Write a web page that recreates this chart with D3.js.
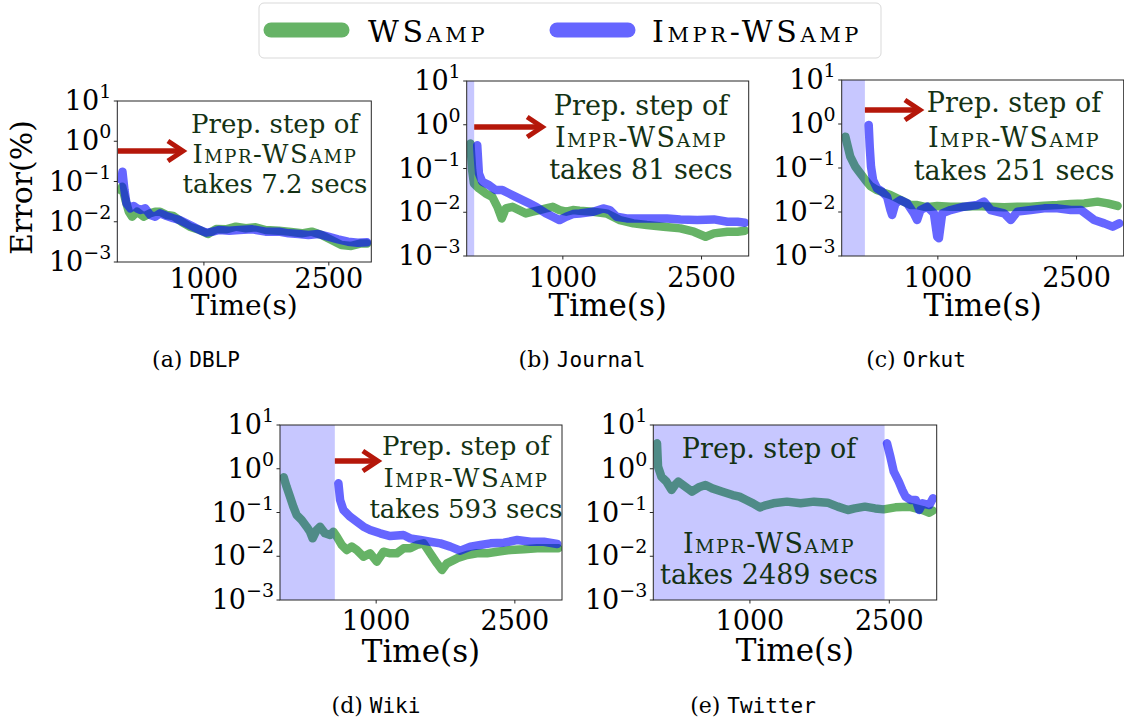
<!DOCTYPE html>
<html>
<head>
<meta charset="utf-8">
<script src="https://cdn.jsdelivr.net/npm/d3@7"></script>
<style>
  body { margin: 0; background: #fff; }
  svg text { font-family: "DejaVu Serif", serif; }
</style>
</head>
<body>
<svg id="chart" width="1124" height="724"></svg>
<script>
// ---- data (time in s, error in %) ----
const datasets = ['DBLP', 'Journal', 'Orkut', 'Wiki', 'Twitter']
const tags = ['(a)', '(b)', '(c)', '(d)', '(e)']
const prepSecs = [7.2, 81, 251, 593, 2489]
const seriesNames = ['WSamp', 'Impr-WSamp']
const xTicks = [1000, 2500]
const yTicks = [1e1, 1e0, 1e-1, 1e-2, 1e-3]
const xDomain = [-40, 3010]
const yDomain = [1e-3, 1e1]

const dblpWsamp = [[0,0.0615],[18,0.0745],[58,0.0347],[98,0.0178],[137,0.0134],[197,0.0178],[276,0.0134],[355,0.0162],[414,0.0178],[474,0.0178],[553,0.0147],[632,0.0139],[731,0.0100],[830,0.00755],[949,0.00624],[1047,0.00496],[1146,0.0066],[1265,0.0065],[1384,0.00755],[1503,0.00687],[1621,0.0073],[1740,0.00624],[1898,0.006],[2017,0.00568],[2176,0.00516],[2294,0.00568],[2413,0.00469],[2532,0.00352],[2650,0.00264],[2769,0.0025],[2888,0.0029],[2960,0.0029]]
const dblpImpr = [[8,0.109],[22,0.175],[46,0.0615],[70,0.0287],[117,0.0215],[157,0.0246],[197,0.0215],[236,0.0196],[295,0.0215],[355,0.0147],[414,0.0134],[474,0.0162],[553,0.0139],[632,0.0122],[711,0.0110],[790,0.00914],[869,0.00755],[949,0.00624],[1028,0.00536],[1107,0.00568],[1186,0.00624],[1305,0.0060],[1424,0.00624],[1582,0.00648],[1740,0.00568],[1898,0.00568],[2017,0.00516],[2136,0.00496],[2255,0.00469],[2373,0.00496],[2492,0.00427],[2611,0.00366],[2730,0.0032],[2848,0.0030],[2960,0.00308]]

const journalWsamp = [[0,0.372],[19,0.0916],[38,0.0455],[92,0.035],[165,0.0269],[237,0.0225],[292,0.0133],[339,0.00723],[383,0.0122],[455,0.0133],[528,0.0112],[600,0.0094],[673,0.0103],[746,0.0112],[818,0.0122],[891,0.0133],[964,0.0112],[1036,0.0103],[1109,0.0112],[1182,0.0108],[1327,0.0103],[1472,0.0094],[1617,0.00662],[1763,0.00556],[1908,0.00509],[2090,0.00467],[2271,0.00428],[2416,0.00359],[2544,0.00276],[2634,0.00329],[2780,0.00359],[2889,0.00359],[2970,0.00379]]
const journalImpr = [[74,0.34],[92,0.0769],[128,0.0497],[201,0.0417],[274,0.0321],[346,0.0321],[419,0.0269],[492,0.0225],[564,0.0189],[637,0.0159],[709,0.0133],[818,0.0094],[891,0.00789],[964,0.00662],[1036,0.00789],[1109,0.00908],[1182,0.0094],[1327,0.0103],[1436,0.0122],[1508,0.0112],[1581,0.00789],[1690,0.00723],[1835,0.00723],[1981,0.00723],[2126,0.00723],[2271,0.00686],[2453,0.00662],[2634,0.00686],[2780,0.00607],[2889,0.00607],[2970,0.00576]]

const orkutWsamp = [[0,0.515],[17,0.364],[53,0.181],[107,0.107],[162,0.0757],[216,0.0534],[270,0.039],[342,0.0316],[415,0.0275],[487,0.0243],[559,0.0205],[631,0.0172],[704,0.0144],[776,0.0144],[848,0.0132],[920,0.0132],[993,0.0137],[1137,0.0132],[1282,0.0132],[1426,0.0137],[1571,0.0132],[1716,0.0128],[1860,0.0132],[2005,0.0132],[2149,0.0139],[2294,0.0144],[2438,0.0152],[2583,0.0157],[2727,0.0172],[2836,0.0157],[2944,0.0137]]
const orkutImpr = [[252,0.95],[263,0.305],[277,0.107],[299,0.0534],[342,0.0345],[396,0.029],[451,0.0223],[487,0.0111],[505,0.00855],[541,0.0157],[595,0.0187],[668,0.0157],[740,0.00933],[776,0.00658],[812,0.0111],[884,0.0132],[957,0.00933],[993,0.00275],[1011,0.00252],[1047,0.00933],[1137,0.0111],[1282,0.0132],[1426,0.0144],[1499,0.0172],[1571,0.0111],[1716,0.00933],[1788,0.00658],[1860,0.0102],[2005,0.0111],[2149,0.0121],[2294,0.0121],[2438,0.0111],[2547,0.0111],[2619,0.00855],[2691,0.00658],[2800,0.00552],[2890,0.00464],[2962,0.00552]]

const wikiWsamp = [[0,0.637],[31,0.389],[68,0.23],[104,0.136],[140,0.0877],[194,0.0675],[248,0.0474],[284,0.0365],[313,0.0257],[357,0.0398],[393,0.0474],[447,0.0334],[501,0.0306],[537,0.0365],[574,0.0281],[628,0.0181],[682,0.0139],[736,0.0166],[790,0.0139],[863,0.00977],[935,0.0117],[1007,0.00752],[1080,0.0127],[1152,0.0117],[1224,0.0117],[1296,0.0152],[1369,0.0152],[1441,0.0181],[1513,0.0197],[1585,0.0117],[1658,0.00689],[1712,0.00485],[1766,0.00689],[1875,0.00896],[1983,0.0107],[2091,0.0117],[2200,0.0117],[2308,0.0127],[2453,0.0139],[2597,0.0144],[2742,0.0152],[2887,0.0152],[2970,0.0152]]
const wikiImpr = [[592,0.464],[610,0.193],[646,0.114],[718,0.0803],[790,0.0617],[863,0.0474],[935,0.0398],[1043,0.0334],[1152,0.029],[1296,0.0306],[1369,0.0257],[1477,0.0235],[1585,0.0215],[1694,0.0197],[1802,0.0166],[1911,0.0134],[2019,0.0166],[2128,0.0181],[2236,0.0197],[2381,0.0204],[2525,0.0235],[2670,0.0215],[2814,0.0215],[2959,0.0191]]

const twitterWsamp = [[0,3.81],[11,1.12],[47,0.659],[102,0.507],[157,0.327],[193,0.425],[230,0.507],[303,0.389],[376,0.299],[449,0.376],[522,0.425],[595,0.356],[704,0.299],[814,0.251],[887,0.23],[960,0.193],[1033,0.162],[1106,0.131],[1179,0.148],[1252,0.162],[1398,0.177],[1544,0.162],[1690,0.177],[1836,0.168],[1945,0.136],[2055,0.114],[2128,0.124],[2237,0.136],[2347,0.124],[2438,0.118],[2566,0.131],[2712,0.136],[2858,0.114],[2931,0.099],[2967,0.11]]
const twitterImpr = [[2475,3.81],[2511,1.89],[2548,0.857],[2602,0.507],[2639,0.327],[2675,0.23],[2730,0.193],[2785,0.193],[2821,0.114],[2858,0.162],[2931,0.148],[2970,0.211]]

const wsampSeries = [dblpWsamp, journalWsamp, orkutWsamp, wikiWsamp, twitterWsamp]
const imprSeries = [dblpImpr, journalImpr, orkutImpr, wikiImpr, twitterImpr]

// ---- layout ----
const serif = '"DejaVu Serif", serif'
const mono = '"DejaVu Sans Mono", monospace'
const colors = ['#008000', '#0000ff']
const annColor = '#143214'
const arrowColor = '#b5170a'
const layout = [
  {left: 117.3, top: 101, w: 254, h: 161, tickPad: 26, labelPad: 53, capX: 196, capY: 367,
    ann: {x: 275, dy: [32, 62, 92], size: 26}, arrow: {dy: 50, len: 65}},
  {left: 466.7, top: 81, w: 282, h: 175, tickPad: 31, labelPad: 60, capX: 582, capY: 367,
    ann: {x: 641, dy: [34, 66, 98], size: 27}, arrow: {dy: 46, len: 68}},
  {left: 841.7, top: 80, w: 282, h: 176, tickPad: 31, labelPad: 60, capX: 916, capY: 367,
    ann: {x: 1014, dy: [32, 67, 100], size: 27}, arrow: {dy: 30, len: 55}},
  {left: 280, top: 425, w: 282, h: 175, tickPad: 30, labelPad: 62, capX: 376, capY: 713,
    ann: {x: 466, dy: [30, 62, 93], size: 26}, arrow: {dy: 36, len: 43}},
  {left: 653.3, top: 425, w: 283.4, h: 175, tickPad: 30, labelPad: 61, capX: 753, capY: 713,
    ann: {x: 769, dy: [33, 128, 159], size: 27}, arrow: null}
]

const svg = d3.select('#chart')

layout.forEach((L, i) => {
  const x = d3.scaleLinear().domain(xDomain).range([L.left, L.left + L.w])
  const y = d3.scaleLog().domain(yDomain).range([L.top + L.h, L.top])
  const g = svg.append('g')

  g.append('clipPath').attr('id', `clip${i}`)
    .append('rect').attr('x', L.left).attr('y', L.top).attr('width', L.w).attr('height', L.h)

  const line = d3.line().x(d => x(d[0])).y(d => y(d[1]))
  const plot = g.append('g').attr('clip-path', `url(#clip${i})`)
  ;[wsampSeries[i], imprSeries[i]].forEach((s, k) => {
    plot.append('path')
      .attr('d', line(s))
      .attr('fill', 'none')
      .attr('stroke', colors[k])
      .attr('stroke-opacity', 0.6)
      .attr('stroke-width', 8.5)
      .attr('stroke-linejoin', 'round')
      .attr('stroke-linecap', 'round')
  })

  // preprocessing span of Impr-WSamp
  plot.append('rect')
    .attr('x', x(xDomain[0]))
    .attr('y', L.top)
    .attr('width', x(xDomain[0] + prepSecs[i]) - x(xDomain[0]))
    .attr('height', L.h)
    .attr('fill', '#0000ff')
    .attr('fill-opacity', 0.22)

  // frame + ticks
  g.append('rect').attr('x', L.left).attr('y', L.top).attr('width', L.w).attr('height', L.h)
    .attr('fill', 'none').attr('stroke', '#262626').attr('stroke-width', 1)
  g.selectAll('.xt').data(xTicks).enter().append('line')
    .attr('x1', d => x(d)).attr('x2', d => x(d))
    .attr('y1', L.top + L.h).attr('y2', L.top + L.h + 3.5)
    .attr('stroke', '#262626')
  g.selectAll('.xl').data(xTicks).enter().append('text')
    .attr('x', d => x(d)).attr('y', L.top + L.h + L.tickPad)
    .attr('text-anchor', 'middle').attr('font-size', 27).attr('fill', '#000')
    .attr('font-family', serif)
    .text(d => d)
  g.selectAll('.yt').data(yTicks).enter().append('line')
    .attr('x1', L.left - 3.5).attr('x2', L.left)
    .attr('y1', d => y(d)).attr('y2', d => y(d))
    .attr('stroke', '#262626')
  const yl = g.selectAll('.yl').data(yTicks).enter().append('text')
    .attr('x', L.left - 6).attr('y', d => y(d) + 9)
    .attr('text-anchor', 'end').attr('font-size', 27).attr('fill', '#000')
    .attr('font-family', serif)
  yl.append('tspan').text('10')
  yl.append('tspan').attr('dy', -12).attr('font-size', 19)
    .text(d => String(Math.round(Math.log10(d))).replace('-', '\u2212'))

  g.append('text')
    .attr('x', L.left + L.w / 2).attr('y', L.top + L.h + L.labelPad)
    .attr('text-anchor', 'middle').attr('font-size', i === 0 ? 28 : 31)
    .attr('font-family', serif)
    .text('Time(s)')

  if (i === 0) {
    g.append('text')
      .attr('transform', `translate(32,${L.top + L.h / 2 + 6}) rotate(-90)`)
      .attr('text-anchor', 'middle').attr('font-size', 30)
      .attr('font-family', serif)
      .text('Error(%)')
  }

  // annotation
  const lines = ['Prep. step of', seriesNames[1], `takes ${prepSecs[i]} secs`]
  lines.forEach((t, j) => {
    const tx = g.append('text')
      .attr('x', L.ann.x).attr('y', L.top + L.ann.dy[j])
      .attr('text-anchor', 'middle').attr('font-size', L.ann.size)
      .attr('font-family', serif)
      .attr('fill', annColor)
      .text(t)
    if (j === 1) tx.style('font-variant', 'small-caps').style('letter-spacing', '1.5px')
  })
  if (L.arrow) {
    const xs = x(xDomain[0] + prepSecs[i]), ay = L.top + L.arrow.dy, xe = xs + L.arrow.len
    g.append('line').attr('x1', xs).attr('x2', xe - 3).attr('y1', ay).attr('y2', ay)
      .attr('stroke', arrowColor).attr('stroke-width', 5.5)
    g.append('path').attr('d', `M ${xe - 15} ${ay - 10} L ${xe} ${ay} L ${xe - 15} ${ay + 10}`)
      .attr('fill', 'none').attr('stroke', arrowColor).attr('stroke-width', 5)
      .attr('stroke-linejoin', 'miter')
  }

  // caption
  const cap = g.append('text').attr('x', L.capX).attr('y', L.capY)
    .attr('text-anchor', 'middle').attr('font-size', 22).attr('font-family', serif)
  cap.append('tspan').text(tags[i] + ' ')
  cap.append('tspan').attr('font-family', mono).attr('font-size', 21).text(datasets[i])
})

// ---- legend ----
const legend = svg.append('g')
legend.append('rect').attr('x', 259).attr('y', 3).attr('width', 622).attr('height', 55).attr('rx', 5)
  .attr('fill', '#fff').attr('stroke', '#d9d9d9')
const legendPos = [{x1: 271, x2: 342, tx: 368}, {x1: 557, x2: 628, tx: 652}]
seriesNames.forEach((name, k) => {
  const p = legendPos[k]
  legend.append('line').attr('x1', p.x1).attr('x2', p.x2).attr('y1', 30).attr('y2', 30)
    .attr('stroke', colors[k]).attr('stroke-opacity', 0.6)
    .attr('stroke-width', 15).attr('stroke-linecap', 'round')
  legend.append('text').attr('x', p.tx).attr('y', 42).attr('font-size', 30)
    .attr('font-family', serif)
    .style('font-variant', 'small-caps').style('letter-spacing', '3.6px')
    .text(name)
})
</script>
</body>
</html>
